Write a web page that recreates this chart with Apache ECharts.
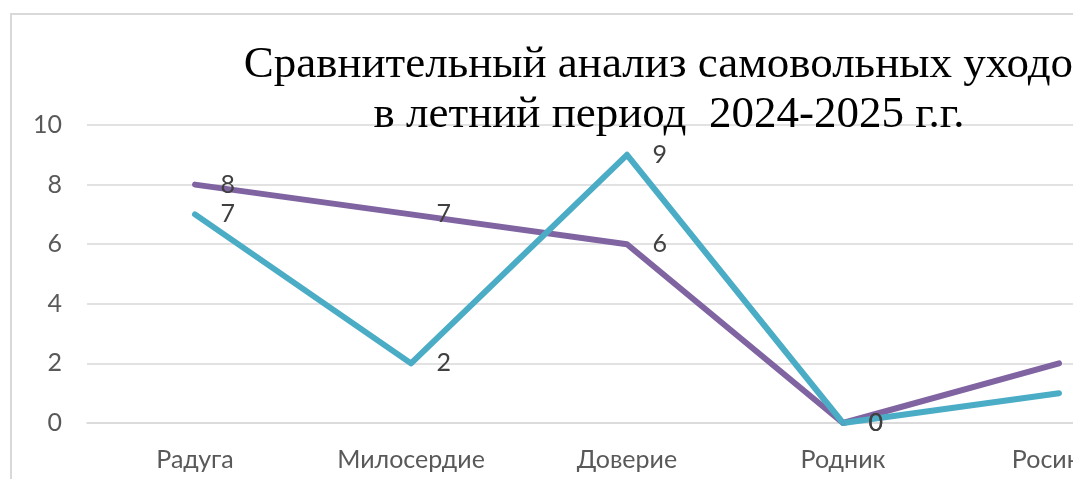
<!DOCTYPE html>
<html>
<head>
<meta charset="utf-8">
<title>Сравнительный анализ самовольных уходов</title>
<script src="https://cdn.jsdelivr.net/npm/echarts@6/dist/echarts.min.js"></script>
<style>
  html, body { margin: 0; padding: 0; background: #fff; }
  #chart { width: 1073px; height: 479px; }
</style>
</head>
<body>
<div id="chart"></div>
<script>
// данные по отделениям
var categories = ['Радуга', 'Милосердие', 'Доверие', 'Родник', 'Росинка'];
var series2024 = [8, 7, 6, 0, 2];
var series2025 = [7, 2, 9, 0, 1];
var yTicks = [0, 2, 4, 6, 8, 10];

var axisFont = 'Lato, "Noto Sans", sans-serif';

function lineSeries(name, data, color) {
  return {
    name: name,
    type: 'line',
    data: data,
    symbol: 'circle',
    symbolSize: 3,
    lineStyle: { color: color, width: 6, cap: 'round', join: 'round' },
    itemStyle: { color: color },
    label: {
      show: true,
      position: 'right',
      distance: 24,
      color: '#404040',
      fontFamily: axisFont,
      fontSize: 25
    },
    emphasis: { disabled: true },
    animation: false
  };
}

var chart = echarts.init(document.getElementById('chart'), null, { renderer: 'canvas' });

var option = {
  backgroundColor: '#fff',
  animation: false,
  title: {
    text: 'Сравнительный анализ самовольных уходов\nв летний период  2024-2025 г.г.',
    left: 664,
    top: 35,
    textAlign: 'center',
    textStyle: {
      fontFamily: '"Liberation Serif", "Times New Roman", serif',
      fontWeight: 'normal',
      fontSize: 45,
      lineHeight: 50,
      color: '#000'
    }
  },
  graphic: [{
    type: 'rect',
    silent: true,
    z: -1,
    shape: { x: 11, y: 14, width: 2000, height: 2000 },
    style: { fill: 'none', stroke: '#d9d9d9', lineWidth: 2 }
  }],
  grid: {
    left: 87,
    top: 125,
    width: 1080,
    height: 298,
    containLabel: false,
    outerBoundsMode: 'none'
  },
  xAxis: {
    type: 'category',
    data: categories,
    boundaryGap: true,
    axisLine: { show: true, lineStyle: { color: '#d9d9d9', width: 1.5 } },
    axisTick: { show: false },
    axisLabel: {
      color: '#595959',
      fontFamily: axisFont,
      fontSize: 25,
      margin: 24
    }
  },
  yAxis: {
    type: 'value',
    min: yTicks[0],
    max: yTicks[yTicks.length - 1],
    interval: yTicks[1] - yTicks[0],
    axisLine: { show: false },
    axisTick: { show: false },
    splitLine: { lineStyle: { color: '#d9d9d9', width: 1.5 } },
    axisLabel: {
      color: '#595959',
      fontFamily: axisFont,
      fontSize: 25,
      margin: 25
    }
  },
  series: [
    lineSeries('2024', series2024, '#8064a2'),
    lineSeries('2025', series2025, '#4bacc6')
  ]
};

chart.setOption(option);
</script>
</body>
</html>
